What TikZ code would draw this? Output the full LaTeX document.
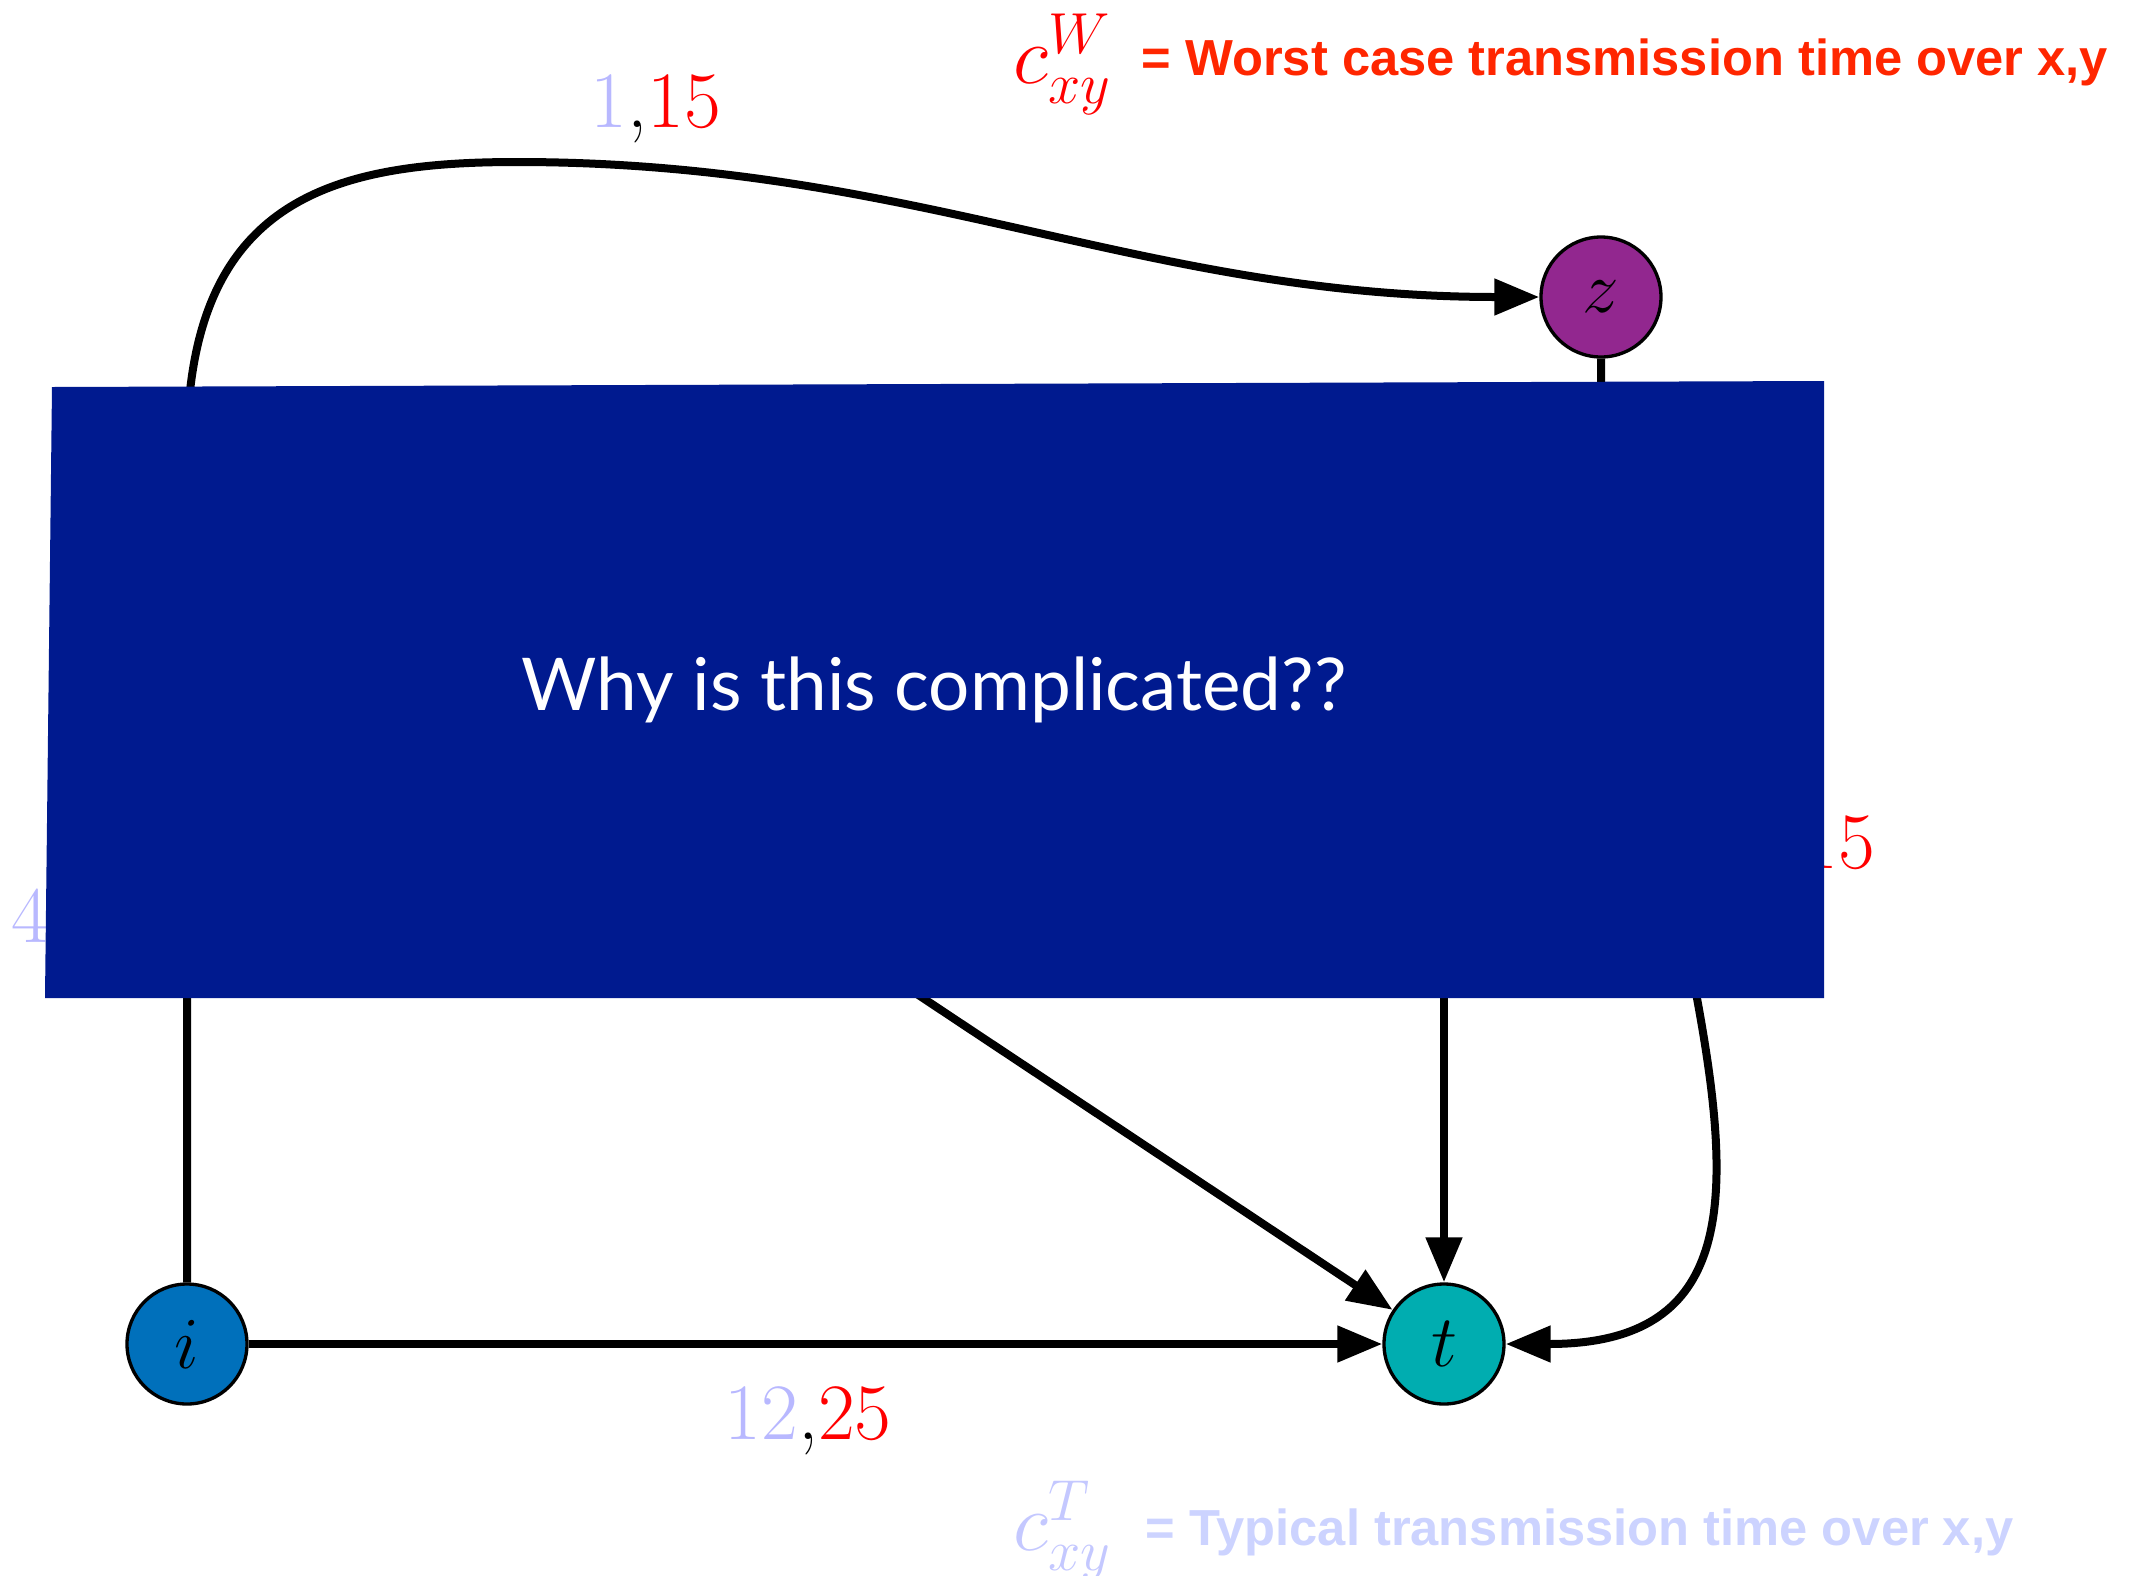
\RequirePackage{fix-cm}
\documentclass[tikz,border=0pt]{standalone}
\usepackage{fontspec}
\usetikzlibrary{arrows.meta}
\newfontfamily\legendfont{Liberation Sans}
\newfontfamily\boxfont{Lato}
\definecolor{boxblue}{HTML}{001A8F}
\definecolor{iblue}{HTML}{0070BB}
\definecolor{tteal}{HTML}{00ADB0}
\definecolor{zpurple}{HTML}{92278F}
\definecolor{lblue}{HTML}{B8B8FF}
\definecolor{wred}{HTML}{FF2600}
\definecolor{lavc}{HTML}{C4C8FF}
\definecolor{lavt}{HTML}{CCD3FF}
\begin{document}
\begin{tikzpicture}[x=0.3pt,y=-0.3pt,
  vertex/.style={circle,draw=black,line width=1pt,inner sep=0pt,minimum size=36pt,font=\fontsize{22}{26}\selectfont},
  edgeline/.style={line width=2.4pt,-{Triangle[width=10.5pt,length=13.5pt]}},
  lbl/.style={inner sep=0pt,anchor=base,font=\fontsize{24}{28}\selectfont},
  legend/.style={inner sep=0pt,anchor=base west,font=\legendfont\bfseries\fontsize{15.2}{18}\selectfont},
  legmath/.style={inner sep=0pt,anchor=base west,font=\fontsize{24.8}{29}\selectfont}]
\useasboundingbox (0,0) rectangle (2142,1576);

% vertices
\node[vertex,fill=iblue] (i) at (187,1344) {$i$};
\node[vertex,fill=tteal] (t) at (1444,1344) {$t$};
\node[vertex,fill=zpurple] (z) at (1601,297) {$z$};

% hidden sources under the box
\coordinate (hA) at (700,850);
\coordinate (hB) at (1444,700);

% edges
\draw[edgeline] (i) -- (t);
\draw[edgeline] (hA) -- (t);
\draw[edgeline] (hB) -- (t);
\draw[edgeline] (i.north) -- (187,450) .. controls (187,200) and (330,162) .. (517,162)
   .. controls (917,162) and (1141,297) .. (z.west);
\draw[edgeline] (z.south) .. controls (1601,857) and (1893,1344) .. (t.east);

% edge labels
\node[lbl] (l115) at (656,127) {\textcolor{lblue}{1},\textcolor{red}{15}};
\node[lbl] (l1225) at (808,1439) {\textcolor{lblue}{12},\textcolor{red}{25}};
\node[lbl,text=lblue] (l4) at (30,942) {4};
\node[lbl,anchor=base east,text=red] (l15) at (1876,868) {15};

% covering box
\fill[boxblue] (52,387) -- (1824,381) -- (1824,998) -- (45,998) -- cycle;
\node[text=white,inner sep=0pt,font=\boxfont\fontsize{21.85}{26}\selectfont] (why) at (934,690) {Why is this complicated??};

% legends
\node[legmath,text=red] (cw) at (1013,83) {$c^{W}_{xy}$};
\node[legend,text=wred] (lw) at (1141,75) {= Worst case transmission time over x,y};
\node[legmath,text=lavc] (ct) at (1013,1550) {$c^{T}_{xy}$};
\node[legend,text=lavt] (lt) at (1145,1545) {= Typical transmission time over x,y};
\end{tikzpicture}
\end{document}
